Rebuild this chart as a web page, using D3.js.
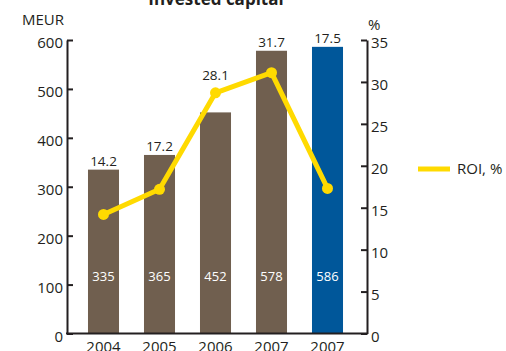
<!DOCTYPE html>
<html><head><meta charset="utf-8">
<script src="https://cdn.jsdelivr.net/npm/d3@7/dist/d3.min.js"></script>
<style>
html,body{margin:0;padding:0;background:#fff;}
svg{display:block;font-family:"Open Sans",sans-serif;}
</style></head>
<body>
<svg id="c" width="506" height="351"></svg>
<script>
const categories = ["2004","2005","2006","2007","2007"];
const capital = [335, 365, 452, 578, 586];
const roi = [14.2, 17.2, 28.7, 31.1, 17.3];
const roiLabels = ["14.2","17.2","28.1","31.7","17.5"];
const leftTicks = [0,100,200,300,400,500,600];
const rightTicks = [0,5,10,15,20,25,30,35];
const title = "Invested capital";

const svg = d3.select("#c");
const ink = "#231f20";
const brown = "#705f4f", blue = "#00579a", yellow = "#ffda00";

const xL = 67, xR = 367, yB = 333.5, yT = 40;
const x = d3.scaleBand().domain(d3.range(categories.length)).range([75.5,355.5]).paddingInner(0.446).paddingOuter(0.223);
const yL = d3.scaleLinear().domain([0,600]).range([yB,yT]);
const yR = d3.scaleLinear().domain([0,35]).range([yB,yT]);

// title
svg.append("text").attr("x",216).attr("y",5).attr("text-anchor","middle")
  .attr("font-weight","bold").attr("font-size",17).attr("fill",ink).text(title);

// bars
svg.selectAll("rect.bar").data(capital).join("rect")
  .attr("x",(d,i)=>x(i)).attr("width",x.bandwidth())
  .attr("y",d=>yL(d)).attr("height",d=>yB-yL(d))
  .attr("fill",(d,i)=>i===capital.length-1?blue:brown);

// values inside bars
svg.selectAll("text.val").data(capital).join("text")
  .attr("x",(d,i)=>x(i)+x.bandwidth()/2).attr("y",yL(115)+4)
  .attr("text-anchor","middle").attr("font-size",13).attr("fill","#fff").text(d=>d);

// axes
const gl = svg.append("g").attr("transform",`translate(${xL},0)`)
  .call(d3.axisLeft(yL).tickValues(leftTicks).tickSizeInner(-6).tickSizeOuter(0).tickPadding(4));
const gr = svg.append("g").attr("transform",`translate(${xR},0)`)
  .call(d3.axisRight(yR).tickValues(rightTicks).tickSizeInner(-6).tickSizeOuter(0).tickPadding(4));
[gl,gr].forEach(g=>{
  g.select(".domain").attr("stroke",ink).attr("stroke-width",2);
  g.selectAll(".tick line").attr("stroke",ink).attr("stroke-width",2);
  g.selectAll(".tick text").attr("font-size",15).attr("fill",ink).attr("font-family","Open Sans").attr("dy","0.5em");
});
svg.append("line").attr("x1",xL-1).attr("x2",xR+1).attr("y1",yB).attr("y2",yB)
  .attr("stroke",ink).attr("stroke-width",2);
const gb = svg.append("g").attr("transform",`translate(0,${yB})`)
  .call(d3.axisBottom(x).tickFormat(i=>categories[i]).tickSize(0).tickPadding(8));
gb.select(".domain").remove();
gb.selectAll(".tick text").attr("font-size",15).attr("fill",ink).attr("font-family","Open Sans");

// axis units
svg.append("text").attr("x",22).attr("y",25).attr("font-size",15).attr("fill",ink).text("MEUR");
svg.append("text").attr("x",368).attr("y",30).attr("font-size",15).attr("fill",ink).text("%");

// ROI line
const line = d3.line().x((d,i)=>x(i)+x.bandwidth()/2).y(d=>yR(d));
svg.append("path").datum(roi).attr("d",line).attr("fill","none")
  .attr("stroke",yellow).attr("stroke-width",5).attr("stroke-linejoin","round");
svg.selectAll("circle.pt").data(roi).join("circle")
  .attr("cx",(d,i)=>x(i)+x.bandwidth()/2).attr("cy",d=>yR(d)).attr("r",5.5).attr("fill",yellow);

// ROI labels
svg.selectAll("text.roi").data(roiLabels).join("text")
  .attr("x",(d,i)=>x(i)+x.bandwidth()/2)
  .attr("y",(d,i)=>Math.min(yL(capital[i])-4, yR(roi[i])-13))
  .attr("text-anchor","middle").attr("font-size",13.5).attr("fill",ink).text(d=>d);

// legend
svg.append("line").attr("x1",418).attr("x2",450).attr("y1",169).attr("y2",169)
  .attr("stroke",yellow).attr("stroke-width",5);
svg.append("text").attr("x",457).attr("y",174).attr("font-size",15).attr("fill",ink).text("ROI, %");
</script>
</body></html>
